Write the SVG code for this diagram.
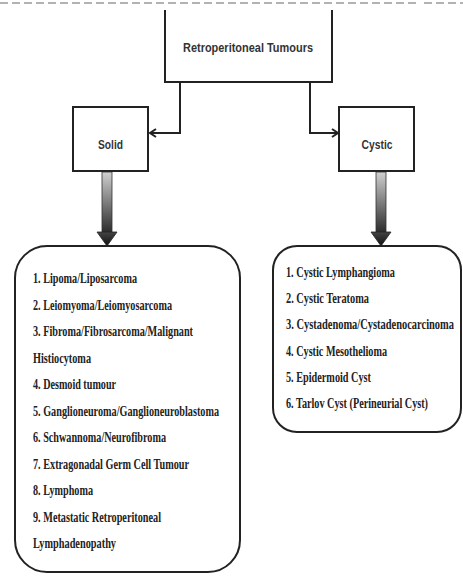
<svg xmlns="http://www.w3.org/2000/svg" width="463" height="576" viewBox="0 0 463 576">
<defs>
<style>
.box{fill:#fff;stroke:#222;stroke-width:2}
.conn{fill:none;stroke:#222;stroke-width:2}
.head{font-family:"Liberation Sans","DejaVu Sans",sans-serif;font-weight:bold;fill:#333}
.lbl{font-family:"Liberation Sans","DejaVu Sans",sans-serif;fill:#333}
.li{font-family:"Liberation Serif","DejaVu Serif",serif;font-weight:bold;font-size:15px;fill:#222}
</style>
<marker id="ah" markerWidth="10" markerHeight="10" refX="8" refY="5" orient="auto" markerUnits="userSpaceOnUse">
<path d="M2,1 L8,5 L2,9" fill="none" stroke="#222" stroke-width="2"/>
</marker>
<linearGradient id="g" x1="0" y1="0" x2="0" y2="1">
<stop offset="0" stop-color="#d0d0d0"/>
<stop offset="1" stop-color="#2a2a2a"/>
</linearGradient>
<linearGradient id="gh" x1="0" y1="0" x2="0" y2="1">
<stop offset="0" stop-color="#444"/>
<stop offset="1" stop-color="#111"/>
</linearGradient>
</defs>
<line x1="0" y1="3" x2="416" y2="3" stroke="#999" stroke-width="1.5" stroke-dasharray="8,4"/>
<line x1="424" y1="3" x2="463" y2="3" stroke="#999" stroke-width="1.5" stroke-dasharray="8,4"/>
<g id="connectors">
<path class="conn" d="M180,82 V133 H150" marker-end="url(#ah)"/>
<path class="conn" d="M310,82 V133 H338" marker-end="url(#ah)"/>
<rect x="102" y="172" width="10" height="61" fill="url(#g)" stroke="#333" stroke-width="0.8"/>
<polygon points="97,232 117,232 107,246" fill="url(#gh)" stroke="#222" stroke-width="0.8"/>
<rect x="376" y="172" width="10" height="61" fill="url(#g)" stroke="#333" stroke-width="0.8"/>
<polygon points="371,232 391,232 381,246" fill="url(#gh)" stroke="#222" stroke-width="0.8"/>
</g>
<g id="root">
<rect x="165" y="10" width="167" height="72" fill="#fff"/>
<path class="conn" d="M165,10 V82 H332 V10"/>
<text class="head" x="248" y="51.5" font-size="13" text-anchor="middle" textLength="130" lengthAdjust="spacingAndGlyphs">Retroperitoneal Tumours</text>
</g>
<g id="solid">
<rect class="box" x="73" y="107" width="75" height="64"/>
<text class="lbl" x="110.5" y="148.5" font-size="13" font-weight="bold" text-anchor="middle" textLength="25" lengthAdjust="spacingAndGlyphs">Solid</text>
</g>
<g id="cystic">
<rect class="box" x="339" y="107" width="75" height="64"/>
<text class="lbl" x="377" y="148.5" font-size="13" font-weight="bold" text-anchor="middle" textLength="31" lengthAdjust="spacingAndGlyphs">Cystic</text>
</g>
<g id="solid-list">
<rect class="box" x="15" y="246" width="225" height="326" rx="32" ry="32"/>
<text class="li" transform="translate(33,283) scale(0.7,1)" textLength="148.6" lengthAdjust="spacingAndGlyphs">1. Lipoma/Liposarcoma</text>
<text class="li" transform="translate(33,309.5) scale(0.7,1)" textLength="198.6" lengthAdjust="spacingAndGlyphs">2. Leiomyoma/Leiomyosarcoma</text>
<text class="li" transform="translate(33,336) scale(0.7,1)" textLength="228.6" lengthAdjust="spacingAndGlyphs">3. Fibroma/Fibrosarcoma/Malignant</text>
<text class="li" transform="translate(33,362.5) scale(0.7,1)" textLength="82.9" lengthAdjust="spacingAndGlyphs">Histiocytoma</text>
<text class="li" transform="translate(33,389) scale(0.7,1)" textLength="118.6" lengthAdjust="spacingAndGlyphs">4. Desmoid tumour</text>
<text class="li" transform="translate(33,415.5) scale(0.7,1)" textLength="265.7" lengthAdjust="spacingAndGlyphs">5. Ganglioneuroma/Ganglioneuroblastoma</text>
<text class="li" transform="translate(33,442) scale(0.7,1)" textLength="190" lengthAdjust="spacingAndGlyphs">6. Schwannoma/Neurofibroma</text>
<text class="li" transform="translate(33,468.5) scale(0.7,1)" textLength="222.9" lengthAdjust="spacingAndGlyphs">7. Extragonadal Germ Cell Tumour</text>
<text class="li" transform="translate(33,495) scale(0.7,1)" textLength="85.7" lengthAdjust="spacingAndGlyphs">8. Lymphoma</text>
<text class="li" transform="translate(33,521.5) scale(0.7,1)" textLength="182.9" lengthAdjust="spacingAndGlyphs">9. Metastatic Retroperitoneal</text>
<text class="li" transform="translate(33,548) scale(0.7,1)" textLength="118.6" lengthAdjust="spacingAndGlyphs">Lymphadenopathy</text>
</g>
<g id="cystic-list">
<rect class="box" x="273" y="246" width="188" height="186" rx="24" ry="24"/>
<text class="li" transform="translate(286,277) scale(0.7,1)" textLength="155.7" lengthAdjust="spacingAndGlyphs">1. Cystic Lymphangioma</text>
<text class="li" transform="translate(286,303) scale(0.7,1)" textLength="118.6" lengthAdjust="spacingAndGlyphs">2. Cystic Teratoma</text>
<text class="li" transform="translate(286,329) scale(0.7,1)" textLength="240" lengthAdjust="spacingAndGlyphs">3. Cystadenoma/Cystadenocarcinoma</text>
<text class="li" transform="translate(286,355.5) scale(0.7,1)" textLength="144.3" lengthAdjust="spacingAndGlyphs">4. Cystic Mesothelioma</text>
<text class="li" transform="translate(286,381.5) scale(0.7,1)" textLength="121.4" lengthAdjust="spacingAndGlyphs">5. Epidermoid Cyst</text>
<text class="li" transform="translate(286,407.5) scale(0.7,1)" textLength="202.9" lengthAdjust="spacingAndGlyphs">6. Tarlov Cyst (Perineurial Cyst)</text>
</g>
</svg>
